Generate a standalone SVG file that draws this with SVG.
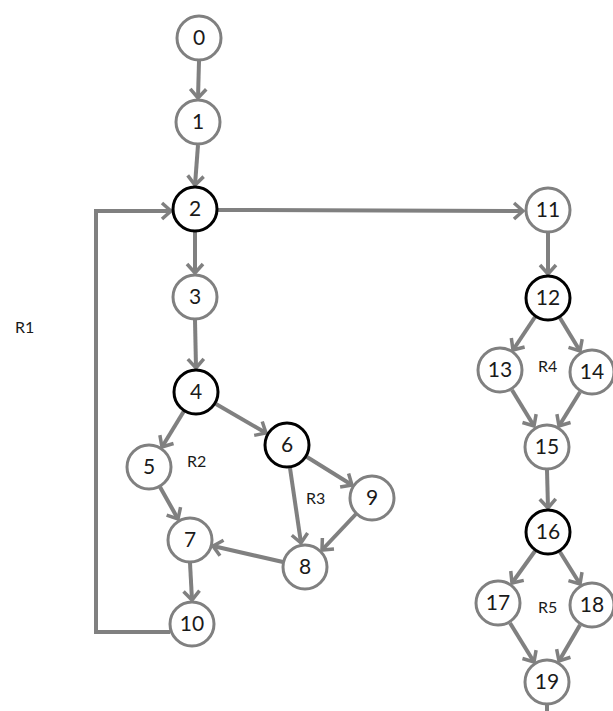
<svg xmlns="http://www.w3.org/2000/svg" width="613" height="711" viewBox="0 0 613 711">
<style>
.n circle{fill:#fff;stroke:#808080;stroke-width:3}
.n.b circle{stroke:#000}
.n text{font-family:Lato,"Liberation Sans",Arial,sans-serif;font-size:21px;fill:#1a1a1a;text-anchor:middle}
.e line,.e polyline{stroke:#808080;stroke-width:4;fill:none;marker-end:url(#ah)}
.e .s{marker-end:none}
.r{font-family:Lato,"Liberation Sans",Arial,sans-serif;font-size:16px;fill:#1a1a1a}
</style>
<defs>
<marker id="ah" viewBox="-1 -10 13 20" refX="10" refY="0" markerWidth="13" markerHeight="20" markerUnits="userSpaceOnUse" orient="auto">
<polyline points="1,-8 10,0 1,8" fill="none" stroke="#808080" stroke-width="3.5"/>
</marker>
</defs>
<g id="connectors" class="e">
<line x1="199" y1="61" x2="198" y2="98"/>
<line x1="198" y1="145" x2="195" y2="185"/>
<line x1="195" y1="232" x2="195" y2="273"/>
<line x1="195" y1="320" x2="196" y2="368"/>
<line x1="184" y1="411" x2="162" y2="447"/>
<line x1="216" y1="404" x2="266" y2="433"/>
<line x1="160" y1="487" x2="178" y2="519"/>
<line x1="290" y1="468" x2="301" y2="543"/>
<line x1="307" y1="457" x2="352" y2="485"/>
<line x1="356" y1="514" x2="322" y2="550"/>
<line x1="283" y1="562" x2="213" y2="546"/>
<line x1="190" y1="563" x2="192" y2="600"/>
<polyline points="170,632 96,632 96,211 171,211"/>
<line x1="218" y1="210" x2="523" y2="211"/>
<line x1="548" y1="233" x2="548" y2="274"/>
<line x1="535" y1="317" x2="513" y2="350"/>
<line x1="560" y1="318" x2="580" y2="351"/>
<line x1="512" y1="390" x2="534" y2="426"/>
<line x1="580" y1="392" x2="559" y2="426"/>
<line x1="547" y1="470" x2="548" y2="508"/>
<line x1="535" y1="551" x2="512" y2="583"/>
<line x1="560" y1="552" x2="580" y2="584"/>
<line x1="510" y1="623" x2="534" y2="662"/>
<line x1="580" y1="625" x2="559" y2="661"/>
<line class="s" x1="547" y1="704" x2="547" y2="711"/>
</g>
<g id="n0" class="n"><circle cx="199" cy="38" r="22"/><text x="199" y="45">0</text></g>
<g id="n1" class="n"><circle cx="198" cy="122" r="22"/><text x="198" y="129">1</text></g>
<g id="n2" class="n b"><circle cx="195" cy="209" r="22"/><text x="195" y="216">2</text></g>
<g id="n3" class="n"><circle cx="195" cy="297" r="22"/><text x="195" y="304">3</text></g>
<g id="n4" class="n b"><circle cx="196" cy="392" r="22"/><text x="196" y="399">4</text></g>
<g id="n5" class="n"><circle cx="149" cy="467" r="22"/><text x="149" y="474">5</text></g>
<g id="n6" class="n b"><circle cx="287" cy="445" r="22"/><text x="287" y="452">6</text></g>
<g id="n7" class="n"><circle cx="190" cy="540" r="22"/><text x="190" y="547">7</text></g>
<g id="n8" class="n"><circle cx="305" cy="567" r="22"/><text x="305" y="574">8</text></g>
<g id="n9" class="n"><circle cx="372" cy="498" r="22"/><text x="372" y="505">9</text></g>
<g id="n10" class="n"><circle cx="192" cy="624" r="22"/><text x="192" y="631">10</text></g>
<g id="n11" class="n"><circle cx="548" cy="210" r="22"/><text x="548" y="217">11</text></g>
<g id="n12" class="n b"><circle cx="548" cy="298" r="22"/><text x="548" y="305">12</text></g>
<g id="n13" class="n"><circle cx="500" cy="370" r="22"/><text x="500" y="377">13</text></g>
<g id="n14" class="n"><circle cx="592" cy="372" r="22"/><text x="592" y="379">14</text></g>
<g id="n15" class="n"><circle cx="547" cy="447" r="22"/><text x="547" y="454">15</text></g>
<g id="n16" class="n b"><circle cx="548" cy="532" r="22"/><text x="548" y="539">16</text></g>
<g id="n17" class="n"><circle cx="498" cy="603" r="22"/><text x="498" y="610">17</text></g>
<g id="n18" class="n"><circle cx="592" cy="605" r="22"/><text x="592" y="612">18</text></g>
<g id="n19" class="n"><circle cx="547" cy="682" r="22"/><text x="547" y="689">19</text></g>
<text class="r" x="15" y="333">R1</text>
<text class="r" x="187" y="467">R2</text>
<text class="r" x="306" y="504">R3</text>
<text class="r" x="538" y="372">R4</text>
<text class="r" x="538" y="613">R5</text>
</svg>
